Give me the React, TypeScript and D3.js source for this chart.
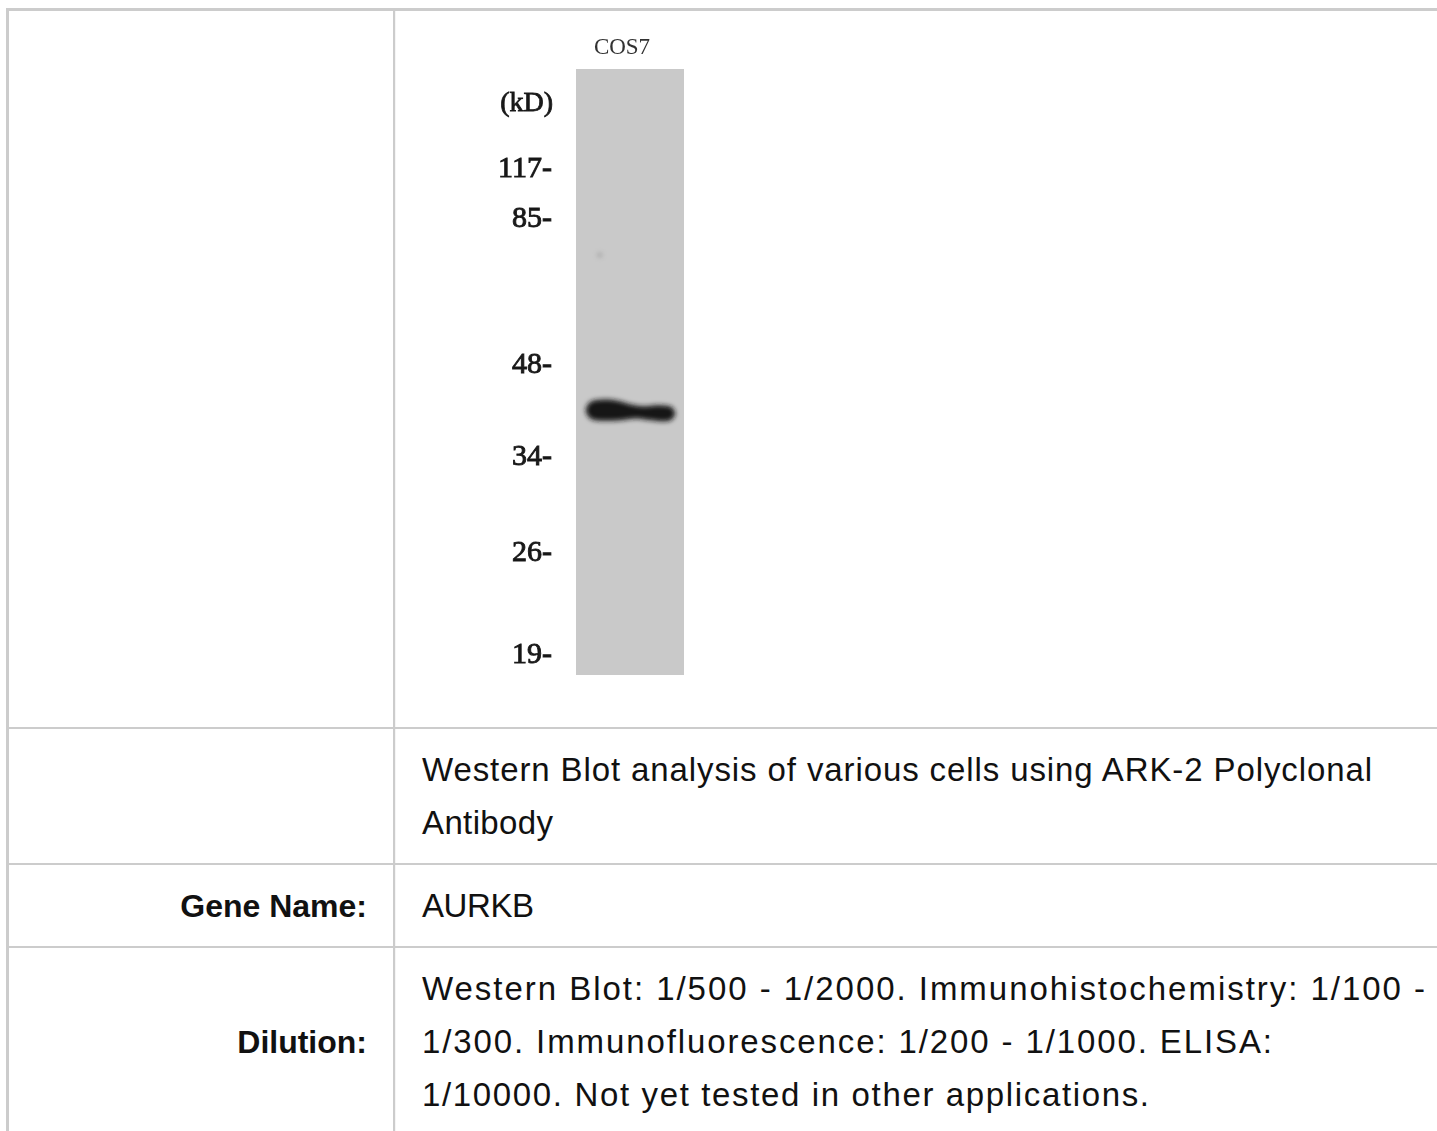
import React from "react";
import * as d3 from "d3";

// western blot markers (kD) and their relative migration along the lane (0 = top, 1 = bottom)
const markerLabels = ["117", "85", "48", "34", "26", "19"];
const markerRf = [0.165, 0.2475, 0.488, 0.64, 0.799, 0.967];
const laneName = "COS7";
const unitLabel = "(kD)";

// the detected band: migration, and its relative thickness across the lane
const bandRf = 0.563;
const bandProfileT = [0.09, 0.11, 0.15, 0.22, 0.33, 0.43, 0.52, 0.61, 0.7, 0.8, 0.87, 0.9, 0.92];
const bandProfileH = [0.0, 0.55, 0.88, 1.0, 1.0, 0.86, 0.66, 0.6, 0.7, 0.76, 0.68, 0.45, 0.0];
const bandTilt = [0, 0, 0, 0, 0, 0.1, 0.2, 0.3, 0.35, 0.4, 0.4, 0.4, 0.4];

// faint speck above the band
const speckRf = 0.307;
const speckT = 0.22;

// table rows below the blot
const rowLabels = ["", "", "Gene Name:", "Dilution:"];
const rowLines = [
  [],
  ["Western Blot analysis of various cells using ARK-2 Polyclonal", "Antibody"],
  ["AURKB"],
  [
    "Western Blot: 1/500 - 1/2000. Immunohistochemistry: 1/100 -",
    "1/300. Immunofluorescence: 1/200 - 1/1000. ELISA:",
    "1/10000. Not yet tested in other applications.",
  ],
];
const rowLineWidths = [[], [950, 131], [112], [1003, 850, 727]];

export default function App() {
  const width = 1437;
  const height = 1131;

  // table geometry
  const rowEdges = [10, 728, 864, 947, height + 20];
  const colX = 394;
  const textX = 422;
  const labelX = 367;
  const lineH = 53;
  const gridColor = "#cccccc";

  // lane geometry
  const laneLeft = 576;
  const laneRight = 684;
  const laneTop = 69;
  const laneBottom = 675;

  const y = d3.scaleLinear().domain([0, 1]).range([laneTop, laneBottom]);
  const x = d3.scaleLinear().domain([0, 1]).range([laneLeft, laneRight]);

  const bandHalf = 10.5;
  const bandPts = bandProfileT.map((t, i) => ({ t, h: bandProfileH[i], o: bandTilt[i] }));
  const bandArea = d3
    .area<{ t: number; h: number; o: number }>()
    .x((d) => x(d.t))
    .y0((d) => y(bandRf) + d.o * 8 - d.h * bandHalf)
    .y1((d) => y(bandRf) + d.o * 8 + d.h * bandHalf)
    .curve(d3.curveCatmullRom.alpha(0.5));

  const sans = "'Liberation Sans', Arial, Helvetica, sans-serif";
  const serif = "'Liberation Serif', 'Times New Roman', Times, serif";

  return (
    <div style={{ position: "absolute", left: 0, top: 0 }}>
      <svg width={width} height={height} style={{ display: "block", background: "#fff" }}>
        <defs>
          <filter id="bandBlur" x="-20%" y="-80%" width="140%" height="260%">
            <feGaussianBlur stdDeviation="2.6" />
          </filter>
          <filter id="soft" x="-10%" y="-10%" width="120%" height="120%">
            <feGaussianBlur stdDeviation="0.5" />
          </filter>
          <filter id="speck" x="-200%" y="-200%" width="500%" height="500%">
            <feGaussianBlur stdDeviation="2" />
          </filter>
        </defs>

        {/* table grid */}
        <rect x={6} y={8} width={width} height={3} fill={gridColor} />
        <rect x={6} y={8} width={3} height={height} fill={gridColor} />
        <rect x={colX - 1} y={8} width={2.2} height={height} fill={gridColor} />
        {rowEdges.slice(1, -1).map((ry, i) => (
          <rect key={i} x={6} y={ry - 1} width={width} height={2} fill={gridColor} />
        ))}

        {/* blot lane */}
        <g filter="url(#soft)">
          <rect x={laneLeft} y={laneTop} width={laneRight - laneLeft} height={laneBottom - laneTop} fill="#c9c9c9" />
        </g>
        <circle cx={x(speckT)} cy={y(speckRf)} r={3} fill="#999" opacity={0.5} filter="url(#speck)" />
        <path d={bandArea(bandPts) || ""} fill="#181818" filter="url(#bandBlur)" />

        {/* blot labels */}
        <g filter="url(#soft)" fill="#1a1a1a">
          <text x={622} y={54} fontFamily={serif} fontSize={23} textAnchor="middle" fill="#333">
            {laneName}
          </text>
          <text x={553} y={111} fontFamily={serif} fontSize={28} textAnchor="end" stroke="#1a1a1a" strokeWidth={0.8}>
            {unitLabel}
          </text>
          {markerLabels.map((m, i) => (
            <text
              key={m}
              x={552}
              y={y(markerRf[i]) + 8}
              fontFamily={serif}
              fontSize={30}
              textAnchor="end"
              stroke="#1a1a1a"
              strokeWidth={0.9}
            >
              {m + "-"}
            </text>
          ))}
        </g>

        {/* table text */}
        {rowLines.map((lines, r) => {
          const top = rowEdges[r];
          const mid = Math.floor((lines.length - 1) / 2);
          return (
            <g key={r}>
              {rowLabels[r] && (
                <text
                  x={labelX}
                  y={top + lineH + mid * lineH}
                  fontFamily={sans}
                  fontSize={32}
                  fontWeight="bold"
                  textAnchor="end"
                  fill="#111"
                >
                  {rowLabels[r]}
                </text>
              )}
              {lines.map((line, i) => (
                <text
                  key={i}
                  x={textX}
                  y={top + lineH + i * lineH}
                  fontFamily={sans}
                  fontSize={33}
                  fill="#111"
                  textLength={rowLineWidths[r][i]}
                  lengthAdjust="spacing"
                >
                  {line}
                </text>
              ))}
            </g>
          );
        })}
      </svg>
    </div>
  );
}
